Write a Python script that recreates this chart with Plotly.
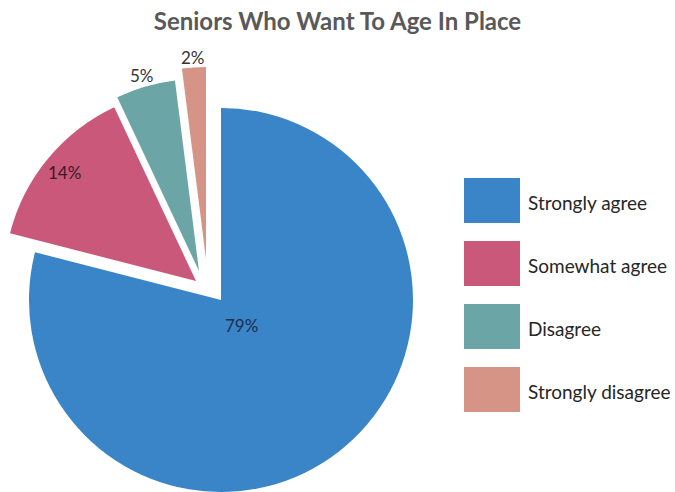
import math
import plotly.graph_objects as go

# ---- data ----
labels = ["Strongly agree", "Somewhat agree", "Disagree", "Strongly disagree"]
values = [79, 14, 5, 2]
title_text = "Seniors Who Want To Age In Place"

# ---- style ----
colors = ["#3A84C8", "#C9587A", "#6BA5A5", "#D69487"]
label_colors = ["#1c2f4d", "#3b1a2a", "#333333", "#333333"]
W, H = 675, 492
CX, CY, R = 221, 300, 192          # pie centre / radius in px
offsets = [(0, 0), (-25, -19), (-22, -29), (-15, -41)]   # explosion shift per slice (px)
label_radius = [0.17, 0.886, 1.06, 1.053]                # label distance as fraction of radius
FONT = "Lato"

fig = go.Figure()
total = sum(values)
cum = 0
for i, lab in enumerate(labels):
    cx = CX + offsets[i][0]
    cy = CY + offsets[i][1]
    dx = [max(0, (cx - R) / W), min(1, (cx + R) / W)]
    dy = [max(0, 1 - (cy + R) / H), min(1, 1 - (cy - R) / H)]
    fig.add_trace(go.Pie(
        labels=labels,
        values=values,
        sort=False,
        direction="clockwise",
        rotation=0,
        domain=dict(x=dx, y=dy),
        marker=dict(colors=[colors[j] if j == i else "rgba(0,0,0,0)" for j in range(len(values))],
                    line=dict(width=0)),
        textinfo="none",
        showlegend=False,
        hoverinfo="label+percent",
    ))
    # percentage label along the slice's mid-angle
    mid = 2 * math.pi * (cum + values[i] / 2) / total
    cum += values[i]
    lx = cx + label_radius[i] * R * math.sin(mid)
    ly = cy - label_radius[i] * R * math.cos(mid)
    fig.add_annotation(xref="paper", yref="paper", x=lx / W, y=1 - ly / H,
                       text=f"{values[i] / total * 100:.0f}%", showarrow=False,
                       xanchor="center", yanchor="middle",
                       font=dict(family=FONT, size=17, color=label_colors[i]))

# custom legend (large swatches)
box_tops = [178, 241, 304, 367]
box_h, box_x0, box_x1 = 45, 464, 520
for i, lab in enumerate(labels):
    t = box_tops[i]
    fig.add_shape(type="rect", xref="paper", yref="paper",
                  x0=box_x0 / W, x1=box_x1 / W, y0=1 - (t + box_h) / H, y1=1 - t / H,
                  fillcolor=colors[i], line=dict(width=0))
    fig.add_annotation(xref="paper", yref="paper", x=526 / W, y=1 - (t + box_h / 2 + 2) / H,
                       text=lab, showarrow=False, xanchor="left", yanchor="middle",
                       font=dict(family=FONT, size=19, color="#262626"))

fig.update_layout(
    width=W, height=H,
    margin=dict(l=0, r=0, t=0, b=0),
    paper_bgcolor="white", plot_bgcolor="white",
    title=dict(text=f"<b>{title_text}</b>", x=0.5, xanchor="center", y=1 - 22 / H, yanchor="middle",
               font=dict(family=FONT, size=24, color="#595959")),
)
fig.write_html("out.html")
